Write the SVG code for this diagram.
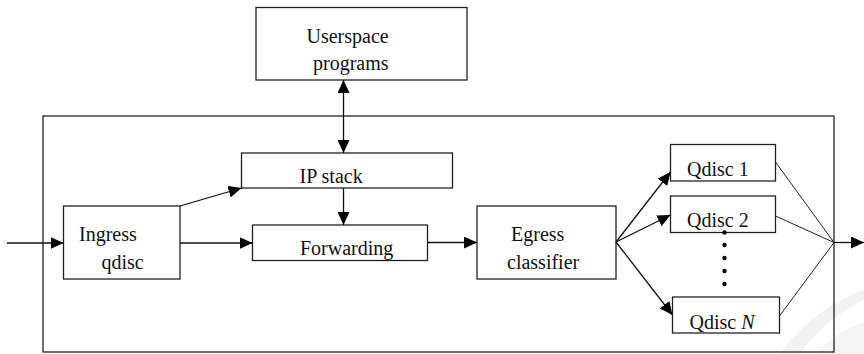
<svg xmlns="http://www.w3.org/2000/svg" width="864" height="354" viewBox="0 0 864 354">
<style>
.box{fill:#fff;stroke:#222;stroke-width:1.3}
.frame{fill:none;stroke:#222;stroke-width:1.3}
.t{font-family:"Liberation Serif","Times New Roman",serif;font-size:20px;fill:#111}
.c{fill:none;stroke:#111;stroke-width:1.3}
.a{marker-end:url(#ah)}
.thin{fill:none;stroke:#222;stroke-width:1}
</style>
<defs>
<marker id="ah" markerUnits="userSpaceOnUse" markerWidth="14" markerHeight="12" refX="13" refY="6" orient="auto">
<path d="M0,0 L13,6 L0,12 Z" fill="#000"/>
</marker>
<marker id="as" markerUnits="userSpaceOnUse" markerWidth="14" markerHeight="12" refX="13" refY="6" orient="auto-start-reverse">
<path d="M0,0 L13,6 L0,12 Z" fill="#000"/>
</marker>
</defs>
<g id="watermark">
<path d="M780,354 C800,325 830,302 864,290 L864,300 C838,312 815,332 800,354 Z" fill="#f2f2f2"/>
<path d="M815,354 C830,338 846,328 864,322 L864,354 Z" fill="#f5f5f5"/>
</g>
<rect id="kernel" class="frame" x="43" y="116" width="791" height="236"/>
<g id="userspace">
<rect class="box" x="256" y="7.5" width="211" height="72.5"/>
<text class="t" x="306.5" y="43">Userspace</text>
<text class="t" x="313" y="70">programs</text>
</g>
<g id="ipstack">
<rect class="box" x="241.5" y="153" width="211" height="35"/>
<text class="t" x="299.5" y="183">IP stack</text>
</g>
<g id="ingress">
<rect class="box" x="63.5" y="206" width="116.5" height="73"/>
<text class="t" x="79" y="241">Ingress</text>
<text class="t" x="101.5" y="269">qdisc</text>
</g>
<g id="forwarding">
<rect class="box" x="252.5" y="225" width="175" height="35.5"/>
<text class="t" x="300" y="255">Forwarding</text>
</g>
<g id="egress">
<rect class="box" x="477" y="206" width="139" height="73"/>
<text class="t" x="511" y="241">Egress</text>
<text class="t" x="507" y="269">classifier</text>
</g>
<g id="qdisc1">
<rect class="box" x="670.5" y="144.5" width="105" height="36.5"/>
<text class="t" x="687" y="175.5">Qdisc 1</text>
</g>
<g id="qdisc2">
<rect class="box" x="670.5" y="196" width="105" height="36.5"/>
<text class="t" x="687" y="226.5">Qdisc 2</text>
</g>
<g id="qdiscN">
<rect class="box" x="672.5" y="297" width="107" height="36"/>
<text class="t" x="689.5" y="329">Qdisc <tspan font-style="italic">N</tspan></text>
</g>
<g id="dots" fill="#000">
<circle cx="724.5" cy="232.5" r="2.2"/>
<circle cx="724.5" cy="245" r="2.2"/>
<circle cx="724.5" cy="258" r="2.2"/>
<circle cx="724.5" cy="271" r="2.2"/>
<circle cx="724.5" cy="284" r="2.2"/>
</g>
<g id="connectors">
<line class="c" x1="343.5" y1="80" x2="343.5" y2="153" marker-start="url(#as)" marker-end="url(#ah)"/>
<line class="c a" x1="7" y1="243" x2="63.5" y2="243"/>
<line class="c a" x1="180" y1="206" x2="241.5" y2="188"/>
<line class="c a" x1="180" y1="243" x2="252.5" y2="243"/>
<line class="c a" x1="343.5" y1="188" x2="343.5" y2="225"/>
<line class="c a" x1="427.5" y1="242.5" x2="477" y2="242.5"/>
<line class="c a" x1="616" y1="242" x2="670.5" y2="172"/>
<line class="c a" x1="616" y1="242" x2="670.5" y2="215"/>
<line class="c a" x1="616" y1="242" x2="672.5" y2="315"/>
<line class="thin" x1="775.5" y1="162" x2="834" y2="242.5"/>
<line class="thin" x1="775.5" y1="216" x2="834" y2="242.5"/>
<line class="thin" x1="779.5" y1="316" x2="834" y2="242.5"/>
<line class="c a" x1="834" y1="242.5" x2="864" y2="242.5"/>
</g>
</svg>
